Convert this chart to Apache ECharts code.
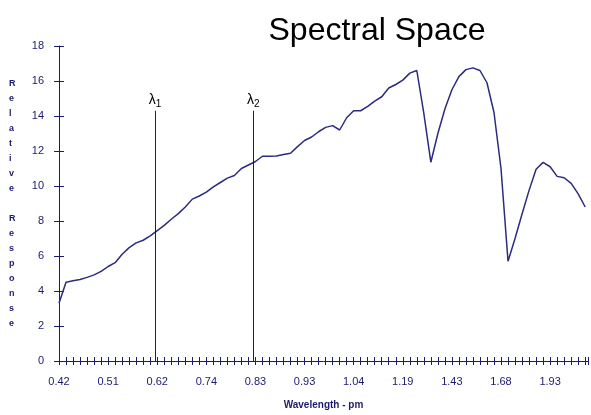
<!DOCTYPE html>
<html>
<head>
<meta charset="utf-8">
<script src="https://cdn.jsdelivr.net/npm/echarts@6/dist/echarts.min.js"></script>
<style>html,body{margin:0;padding:0;background:#fff;}#c{width:591px;height:415px;}</style>
</head>
<body>
<div id="c"></div>
<script>
// Tick labels shown every 7th sample (wavelength, µm)
const tickLabels = ['0.42','0.51','0.62','0.74','0.83','0.93','1.04','1.19','1.43','1.68','1.93'];
const labelEvery = 7;
// Relative response for each sample index
const responseValues = [
  3.3, 4.5, 4.58, 4.66, 4.78, 4.92, 5.12, 5.4, 5.62, 6.1,
  6.48, 6.75, 6.9, 7.15, 7.45, 7.75, 8.1, 8.42, 8.8, 9.25,
  9.43, 9.65, 9.95, 10.2, 10.45, 10.6, 11.0, 11.2, 11.4, 11.7,
  11.7, 11.72, 11.8, 11.87, 12.25, 12.6, 12.8, 13.1, 13.35, 13.45,
  13.2, 13.9, 14.3, 14.3, 14.55, 14.85, 15.1, 15.6, 15.8, 16.05,
  16.45, 16.6, 14.15, 11.36, 13.0, 14.4, 15.5, 16.25, 16.65, 16.75,
  16.6, 15.9, 14.2, 11.0, 5.7, 7.0, 8.4, 9.75, 10.96, 11.35,
  11.1, 10.55, 10.47, 10.15, 9.55, 8.8
];
// Band markers (sample-index position, height, label subscript)
const lambdaPositions = [13.7, 27.7];
const lambdaTop = 14.3;
const lambdaNames = ['1', '2'];

const navy = '#1b1b6e';
const chart = echarts.init(document.getElementById('c'), null, {renderer: 'canvas'});
const seriesData = responseValues.map((v, i) => [i, v]);
const xMax = 75.4;

const xLabelFmt = function (v) {
  if (Math.abs(v - Math.round(v)) > 1e-6) return '';
  const r = Math.round(v);
  if (r % labelEvery === 0 && r / labelEvery < tickLabels.length) return tickLabels[r / labelEvery];
  return '';
};

chart.setOption({
  animation: false,
  backgroundColor: '#fff',
  title: {
    text: 'Spectral Space',
    left: 372, top: 10, textAlign: 'center',
    textStyle: {fontFamily: 'Liberation Sans, Arial', fontSize: 32, fontWeight: 'normal', color: '#000'}
  },
  grid: {left: 59, right: 1, top: 46, bottom: 52},
  xAxis: [{
    type: 'value', min: 0, max: xMax, interval: 1,
    name: 'Wavelength - pm', nameLocation: 'middle', nameGap: 39,
    nameTextStyle: {fontFamily: 'Liberation Sans, Arial', fontSize: 10, fontWeight: 'bold', color: navy},
    axisLine: {onZero: false, lineStyle: {color: navy, width: 1}},
    axisTick: {inside: false, length: 4, lineStyle: {color: navy}},
    axisLabel: {margin: 15, formatter: xLabelFmt, fontFamily: 'Liberation Sans, Arial', fontSize: 11, color: navy},
    splitLine: {show: false}
  }, {
    type: 'value', position: 'bottom', min: 0, max: xMax, interval: 1, offset: 0,
    axisLine: {show: false},
    axisTick: {inside: true, length: 4, lineStyle: {color: navy}},
    axisLabel: {show: false},
    splitLine: {show: false}
  }],
  yAxis: [{
    type: 'value', min: 0, max: 18, interval: 2,
    axisLine: {show: true, onZero: false, lineStyle: {color: navy, width: 1}},
    axisTick: {show: true, inside: false, length: 5, lineStyle: {color: navy}},
    axisLabel: {margin: 15, fontFamily: 'Liberation Sans, Arial', fontSize: 11, color: navy},
    splitLine: {show: false}
  }, {
    type: 'value', position: 'left', min: 0, max: 18, interval: 2, offset: 0,
    axisLine: {show: false},
    axisTick: {show: true, inside: true, length: 5, lineStyle: {color: navy}},
    axisLabel: {show: false},
    splitLine: {show: false}
  }],
  graphic: [{
    type: 'text', left: 9, top: 76,
    style: {
      text: 'R\ne\nl\na\nt\ni\nv\ne\n\nR\ne\ns\np\no\nn\ns\ne',
      fontFamily: 'Liberation Sans, Arial', fontSize: 9, fontWeight: 'bold',
      lineHeight: 15, fill: navy, align: 'center'
    }
  }],
  series: [{
    type: 'line', data: seriesData, showSymbol: false, symbol: 'none',
    lineStyle: {color: '#2b2b80', width: 1.5},
    markLine: {
      silent: true, symbol: 'none',
      lineStyle: {color: '#222', width: 1, type: 'solid'},
      label: {
        show: true, position: 'end', distance: 2,
        formatter: p => '{l|λ}{s|' + p.name + '}',
        rich: {
          l: {fontFamily: 'Liberation Sans, Arial', fontSize: 14, color: '#000'},
          s: {fontFamily: 'Liberation Sans, Arial', fontSize: 10, color: '#000', padding: [8, 0, 0, 0]}
        }
      },
      data: lambdaPositions.map((x, k) => [
        {coord: [x, 0], name: lambdaNames[k]},
        {coord: [x, lambdaTop]}
      ])
    }
  }]
});
</script>
</body>
</html>
